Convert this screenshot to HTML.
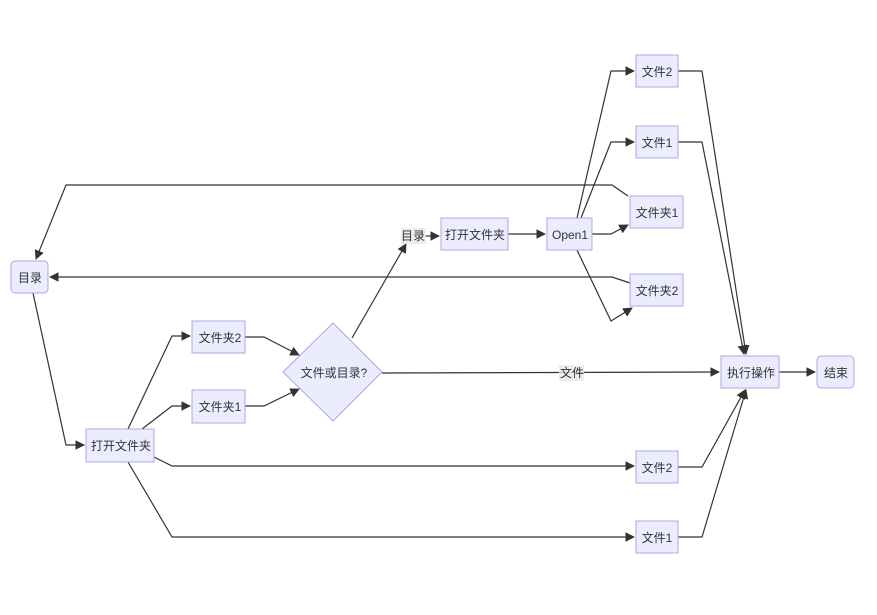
<!DOCTYPE html>
<html><head><meta charset="utf-8"><style>
html,body{margin:0;padding:0;background:#fff;}
svg text{font-family:"Liberation Sans","Noto Sans CJK SC",sans-serif;font-size:12px;fill:#333;}
</style></head><body>
<svg width="877" height="610" viewBox="0 0 877 610" xmlns="http://www.w3.org/2000/svg">
<defs><marker id="a" viewBox="0 0 10 10" refX="9" refY="5" markerWidth="8" markerHeight="8" orient="auto"><path d="M0,0L10,5L0,10z" fill="#333"/></marker></defs>
<g fill="none" stroke="#333" stroke-width="1.2" marker-end="url(#a)">
<path d="M628,196 L612,185 L66,185 L36,259"/>
<path d="M630,283 L612,277 L50,277"/>
<path d="M33,293 L66,445 L84,445"/>
<path d="M128,429 L172,336 L190,336"/>
<path d="M142,429 L172,406 L190,406"/>
<path d="M154,457 L172,466 L634,466"/>
<path d="M128,462 L172,537 L634,537"/>
<path d="M245,337 L264,337 L299,355"/>
<path d="M245,406 L264,406 L299,389"/>
<path d="M352,338 L406,244"/>
<path d="M425,236 L439,236"/>
<path d="M508,234 L545,234"/>
<path d="M382,373 L719,372"/>
<path d="M577,218 L611,71 L634,71"/>
<path d="M581,218 L611,142 L634,142"/>
<path d="M592,234 L611,234 L628,225"/>
<path d="M577,250 L611,321 L632,308"/>
<path d="M678,71 L702,71 L746,354"/>
<path d="M678,142 L702,142 L744,354"/>
<path d="M678,467 L702,467 L745,390"/>
<path d="M678,537 L702,537 L746,390"/>
<path d="M779,372 L815,372"/>
</g>
<g fill="#ECECFF" stroke="#b3a4e0" stroke-width="1">
<rect x="11" y="261" width="37" height="32" rx="4"/>
<rect x="86" y="429" width="68" height="33"/>
<rect x="192" y="321" width="53" height="32"/>
<rect x="192" y="390" width="53" height="33"/>
<path d="M333,323 L382,372 L333,421 L283,372z"/>
<rect x="441" y="218" width="67" height="32"/>
<rect x="547" y="218" width="45" height="32"/>
<rect x="636" y="55" width="42" height="32"/>
<rect x="636" y="126" width="42" height="32"/>
<rect x="630" y="196" width="53" height="32"/>
<rect x="630" y="274" width="53" height="32"/>
<rect x="721" y="356" width="58" height="32"/>
<rect x="817" y="356" width="37" height="32" rx="4"/>
<rect x="636" y="451" width="42" height="32"/>
<rect x="636" y="521" width="42" height="32"/>
</g>
<rect x="401" y="228" width="25" height="16" fill="#e8e8e8" opacity="0.8"/>
<rect x="559" y="365" width="25" height="16" fill="#e8e8e8" opacity="0.8"/>
<g text-anchor="middle">
<text x="30" y="282">目录</text>
<text x="121" y="450">打开文件夹</text>
<text x="220" y="342">文件夹2</text>
<text x="220" y="411">文件夹1</text>
<text x="334" y="377">文件或目录?</text>
<text x="413" y="240">目录</text>
<text x="475" y="239">打开文件夹</text>
<text x="570" y="239">Open1</text>
<text x="657" y="76">文件2</text>
<text x="657" y="147">文件1</text>
<text x="657" y="217">文件夹1</text>
<text x="657" y="295">文件夹2</text>
<text x="572" y="377">文件</text>
<text x="751" y="377">执行操作</text>
<text x="836" y="377">结束</text>
<text x="657" y="472">文件2</text>
<text x="657" y="542">文件1</text>
</g>
</svg>
</body></html>
